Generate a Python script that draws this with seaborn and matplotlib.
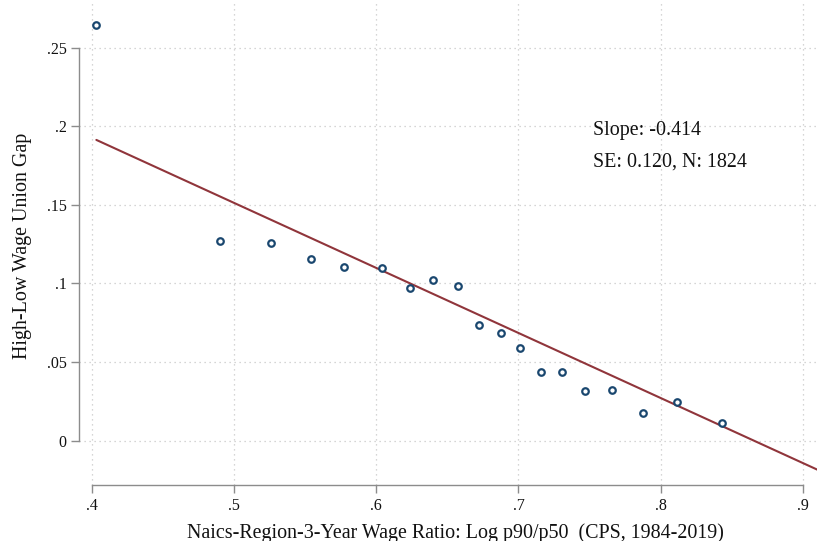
import numpy as np
import pandas as pd
import matplotlib
matplotlib.use("Agg")
import matplotlib.pyplot as plt
import seaborn as sns

# Binned scatter data
x_vals = [0.4034, 0.4903, 0.5261, 0.5540, 0.5772, 0.6044, 0.6240, 0.6400, 0.6578,
          0.6721, 0.6878, 0.7013, 0.7159, 0.7304, 0.7466, 0.7660, 0.7876, 0.8115, 0.8431]
y_vals = [0.2646, 0.1271, 0.1258, 0.1158, 0.1107, 0.1101, 0.0973, 0.1020, 0.0986,
          0.0736, 0.0685, 0.0590, 0.0439, 0.0439, 0.0318, 0.0324, 0.0176, 0.0244, 0.0111]

# Fitted line (from regression on underlying data)
fit_slope = -0.414
fit_intercept_at_start = 0.1913
fit_x_range = [0.4034, 0.93]

x_ticks = [0.4, 0.5, 0.6, 0.7, 0.8, 0.9]
x_ticklabels = [".4", ".5", ".6", ".7", ".8", ".9"]
y_ticks = [0.0, 0.05, 0.10, 0.15, 0.20, 0.25]
y_ticklabels = ["0", ".05", ".1", ".15", ".2", ".25"]

annot_lines = ["Slope: -0.414", "SE: 0.120, N: 1824"]

sns.set_style("white")
plt.rcParams['font.family'] = ['Liberation Serif', 'DejaVu Serif']

fig = plt.figure(figsize=(8.17, 5.41), dpi=100)
ax = fig.add_axes([79 / 817, 56 / 541, 1 - 79 / 817, 1 - 56 / 541])

df = pd.DataFrame({"x": x_vals, "y": y_vals})
fit_y = [fit_intercept_at_start + fit_slope * (xx - fit_x_range[0]) for xx in fit_x_range]
fit_df = pd.DataFrame({"x": fit_x_range, "y": fit_y})

sns.lineplot(data=fit_df, x="x", y="y", ax=ax, color="#90353b", linewidth=1.5, zorder=2)
sns.scatterplot(data=df, x="x", y="y", ax=ax, marker="o", s=22,
                facecolor="white", edgecolor="#1a476f", linewidth=1.6, zorder=3)

ax.set_xlim(0.3912, 0.9098)
ax.set_ylim(-0.0282, 0.2803)

ax.set_xticks(x_ticks)
ax.set_xticklabels(x_ticklabels)
ax.set_yticks(y_ticks)
ax.set_yticklabels(y_ticklabels)

ax.grid(True, linestyle=(0, (1, 3)), color="#c8c8c8", linewidth=0.9)
ax.set_axisbelow(True)

for s in ["top", "right"]:
    ax.spines[s].set_visible(False)
ax.spines["left"].set_bounds(0, 0.25)
ax.spines["bottom"].set_bounds(0.4, 0.9)
for s in ["left", "bottom"]:
    ax.spines[s].set_color("#8c8c8c")
    ax.spines[s].set_linewidth(1.0)

ax.tick_params(axis="both", direction="out", length=6, width=1.0, color="#8c8c8c",
               labelsize=11.5, labelcolor="#111111", pad=3, left=True, bottom=True)

ax.set_xlabel("Naics-Region-3-Year Wage Ratio: Log p90/p50  (CPS, 1984-2019)",
              fontsize=14.4, color="#111111")
ax.set_ylabel("High-Low Wage Union Gap", fontsize=14.4, color="#111111")
ax.xaxis.set_label_coords(0.510, -0.078)
ax.yaxis.set_label_coords(-0.064, 0.493)

ax.text(0.7524, 0.1945, annot_lines[0], fontsize=14.4, color="#111111",
        va="baseline", ha="left")
ax.text(0.7524, 0.1743, annot_lines[1], fontsize=14.4, color="#111111",
        va="baseline", ha="left")

fig.savefig("out.png", dpi=100)
